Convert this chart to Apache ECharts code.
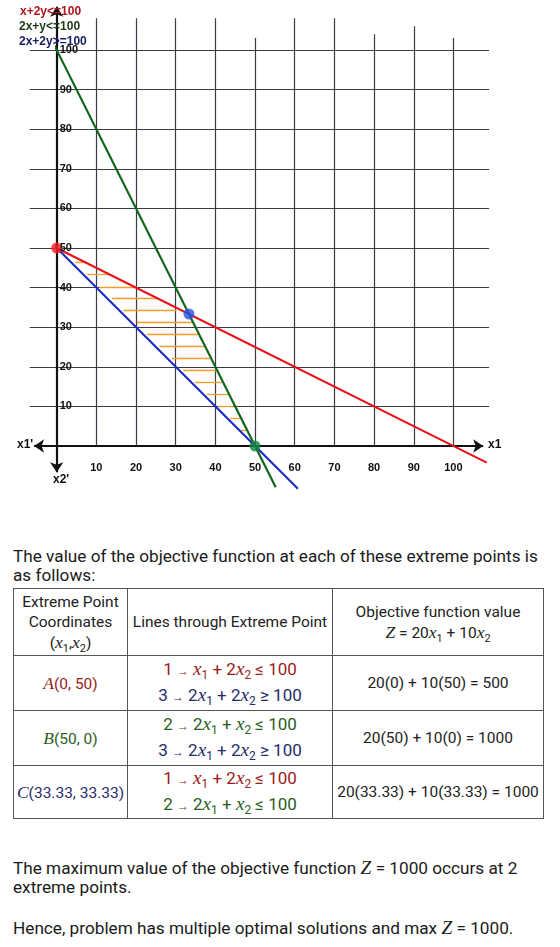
<!DOCTYPE html>
<html>
<head>
<meta charset="utf-8">
<script src="https://cdn.jsdelivr.net/npm/echarts@6.0.0/dist/echarts.min.js"></script>
<style>
html, body { margin: 0; padding: 0; background: #fff; }
body { width: 560px; height: 947px; position: relative; overflow: hidden; font-family: Roboto, 'Noto Sans', sans-serif; color: #1a1a1a; }
#chart { position: absolute; left: 0; top: 0; width: 560px; height: 500px; }
.para { position: absolute; left: 13px; font-size: 17.2px; line-height: 19px; white-space: nowrap; }
table { position: absolute; left: 13px; top: 588px; border-collapse: collapse; font-size: 15.5px; color: #222; }
td { border: 1px solid #555; text-align: center; vertical-align: middle; padding: 0; line-height: 20px; white-space: nowrap; }
.v { font-family: 'Liberation Serif', serif; font-style: italic; font-size: 1.13em; }
sub { font-size: 0.7em; vertical-align: -4px; line-height: 0; }
.ar { font-size: 0.7em; }
.r { color: #9a1c1c; }
.g { color: #2a5e22; }
.b { color: #272c6a; }
.eq { line-height: 24px; font-size: 17px; }
</style>
</head>
<body>
<div id="chart"></div>

<div class="para" style="top:547px">The value of the objective function at each of these extreme points is<br>as follows:</div>

<table>
  <tr style="height:67px">
    <td style="width:113px">Extreme Point<br>Coordinates<br>(<span class="v">x</span><sub>1</sub>,<span class="v">x</span><sub>2</sub>)</td>
    <td style="width:204px">Lines through Extreme Point</td>
    <td style="width:210px">Objective function value<br><span class="v">Z</span> = 20<span class="v">x</span><sub>1</sub> + 10<span class="v">x</span><sub>2</sub></td>
  </tr>
  <tr style="height:55px">
    <td class="r"><span class="v">A</span>(0, 50)</td>
    <td class="eq"><div class="r">1 <span class="ar">→</span> <span class="v">x</span><sub>1</sub> + 2<span class="v">x</span><sub>2</sub> ≤ 100</div><div class="b">3 <span class="ar">→</span> 2<span class="v">x</span><sub>1</sub> + 2<span class="v">x</span><sub>2</sub> ≥ 100</div></td>
    <td>20(0) + 10(50) = 500</td>
  </tr>
  <tr style="height:55px">
    <td class="g"><span class="v">B</span>(50, 0)</td>
    <td class="eq"><div class="g">2 <span class="ar">→</span> 2<span class="v">x</span><sub>1</sub> + <span class="v">x</span><sub>2</sub> ≤ 100</div><div class="b">3 <span class="ar">→</span> 2<span class="v">x</span><sub>1</sub> + 2<span class="v">x</span><sub>2</sub> ≥ 100</div></td>
    <td>20(50) + 10(0) = 1000</td>
  </tr>
  <tr style="height:52px">
    <td class="b"><span class="v">C</span>(33.33, 33.33)</td>
    <td class="eq"><div class="r">1 <span class="ar">→</span> <span class="v">x</span><sub>1</sub> + 2<span class="v">x</span><sub>2</sub> ≤ 100</div><div class="g">2 <span class="ar">→</span> 2<span class="v">x</span><sub>1</sub> + <span class="v">x</span><sub>2</sub> ≤ 100</div></td>
    <td>20(33.33) + 10(33.33) = 1000</td>
  </tr>
</table>

<div class="para" style="top:858px">The maximum value of the objective function <span class="v">Z</span> = 1000 occurs at 2<br>extreme points.</div>
<div class="para" style="top:918px">Hence, problem has multiple optimal solutions and max <span class="v">Z</span> = 1000.</div>

<script>
// tick values on both axes
const xTicks = [10, 20, 30, 40, 50, 60, 70, 80, 90, 100]
const yTicks = [10, 20, 30, 40, 50, 60, 70, 80, 90, 100]
// where the vertical grid lines stop above the 100 line
const gridTop = [108, 108, 108, 108, 103, 108, 108, 104, 106, 103]

// constraint lines, as drawn (end points)
const redLine = [[-6.8, 53.4], [108.4, -4.2]]     // x + 2y = 100
const greenLine = [[-6.3, 112.6], [55.2, -10.4]]  // 2x + y = 100
const blueLine = [[-7.4, 57.4], [60.8, -10.8]]    // 2x + 2y = 100

// extreme points A, B, C
const points = [[0, 50], [50, 0], [33.33, 33.33]]

// orange hatching of the feasible region
const hatchY = [46.4, 43.3, 40.2, 37.2, 34.3, 31.2, 28.2, 25.2, 22.1, 19.1, 16.1, 13.1, 10.0, 7.0, 4.0]
const hatchFrom = [4.6, 7.7, 10.7, 13.9, 16.8, 20.2, 22.8, 25.9, 29.0, 31.9, 34.9, 37.8, 40.7, 43.7, 46.4]
const hatchTo = [7.7, 13.4, 20.2, 25.2, 30.2, 34.4, 35.7, 37.1, 38.6, 40.3, 41.8, 43.5, 44.5, 46.4, 47.9]

const chart = echarts.init(document.getElementById('chart'))

const gridLines = []
xTicks.forEach((x, i) => gridLines.push({ coords: [[x, 0], [x, gridTop[i]]] }))
yTicks.forEach((y) => gridLines.push({ coords: [[-6.8, y], [109, y]] }))

const hatch = hatchY.map((y, i) => ({ coords: [[hatchFrom[i], y], [hatchTo[i], y]] }))

const labelStyle = {
  color: '#111',
  fontSize: 11,
  fontWeight: 'bold',
  fontFamily: 'Liberation Sans, Arial, sans-serif'
}

const option = {
  backgroundColor: '#fff',
  animation: false,
  // the grid starts at the origin, everything left of / below it is drawn unclipped
  grid: {
    left: 56.7,
    top: 10.4,
    width: 436.4,
    height: 435.6,
    containLabel: false,
    outerBoundsMode: 'none'
  },
  xAxis: {
    type: 'value',
    min: 0,
    max: 110,
    interval: 10,
    z: 10,
    axisLine: { show: false, onZero: false },
    axisTick: { show: false },
    splitLine: { show: false },
    axisLabel: Object.assign({
      margin: 16,
      formatter: (v) => (xTicks.indexOf(v) >= 0 ? String(v) : '')
    }, labelStyle)
  },
  yAxis: {
    type: 'value',
    min: 0,
    max: 110,
    interval: 10,
    z: 10,
    axisLine: { show: false, onZero: false },
    axisTick: { show: false },
    splitLine: { show: false },
    axisLabel: Object.assign({
      inside: true,
      margin: 3,
      formatter: (v) => (yTicks.indexOf(v) >= 0 ? String(v) : '')
    }, labelStyle)
  },
  graphic: [
    { type: 'text', left: 20, top: 6, z: 100, style: { text: 'x+2y<=100', fill: '#b3141b', font: 'bold 12px Liberation Sans, Arial' } },
    { type: 'text', left: 19, top: 21, z: 100, style: { text: '2x+y<=100', fill: '#1f3a15', font: 'bold 12px Liberation Sans, Arial' } },
    { type: 'text', left: 19, top: 36, z: 100, style: { text: '2x+2y>=100', fill: '#1c2066', font: 'bold 12px Liberation Sans, Arial' } },
    { type: 'text', left: 488, top: 439, style: { text: 'x1', fill: '#111', font: 'bold 12px Liberation Sans, Arial' } },
    { type: 'text', left: 17, top: 439, style: { text: "x1'", fill: '#111', font: 'bold 12px Liberation Sans, Arial' } },
    { type: 'text', left: 53, top: 474, style: { text: "x2'", fill: '#111', font: 'bold 12px Liberation Sans, Arial' } }
  ],
  series: [
    {
      name: 'grid',
      type: 'lines',
      coordinateSystem: 'cartesian2d',
      clip: false,
      silent: true,
      lineStyle: { color: '#3b3b48', width: 1.2, opacity: 1 },
      data: gridLines,
      z: 1
    },
    {
      name: 'axes',
      type: 'lines',
      coordinateSystem: 'cartesian2d',
      clip: false,
      silent: true,
      symbol: ['arrow', 'arrow'],
      symbolSize: 10,
      lineStyle: { color: '#111', width: 2.2, opacity: 1 },
      data: [
        { coords: [[-5.7, 0], [107.5, 0]] },
        { coords: [[0, -6.6], [0, 110.9]] }
      ],
      z: 3
    },
    {
      name: 'hatch',
      type: 'lines',
      coordinateSystem: 'cartesian2d',
      clip: false,
      silent: true,
      lineStyle: { color: '#f59b2a', width: 1.3, opacity: 1 },
      data: hatch,
      z: 2
    },
    {
      name: 'x + 2y = 100',
      type: 'line',
      data: redLine,
      clip: false,
      showSymbol: false,
      lineStyle: { color: '#e8141c', width: 2.2 },
      z: 4
    },
    {
      name: '2x + y = 100',
      type: 'line',
      data: greenLine,
      clip: false,
      showSymbol: false,
      lineStyle: { color: '#12661c', width: 2.2 },
      z: 4
    },
    {
      name: '2x + 2y = 100',
      type: 'line',
      data: blueLine,
      clip: false,
      showSymbol: false,
      lineStyle: { color: '#1c2ec4', width: 2.2 },
      z: 4
    },
    {
      name: 'extreme points',
      type: 'scatter',
      symbolSize: 11,
      clip: false,
      data: [
        { value: points[0], itemStyle: { color: '#ff1a1a' } },
        { value: points[1], itemStyle: { color: '#14873a' } },
        { value: points[2], itemStyle: { color: '#2651e0' } }
      ],
      z: 5
    }
  ]
}

chart.setOption(option)
</script>
</body>
</html>
